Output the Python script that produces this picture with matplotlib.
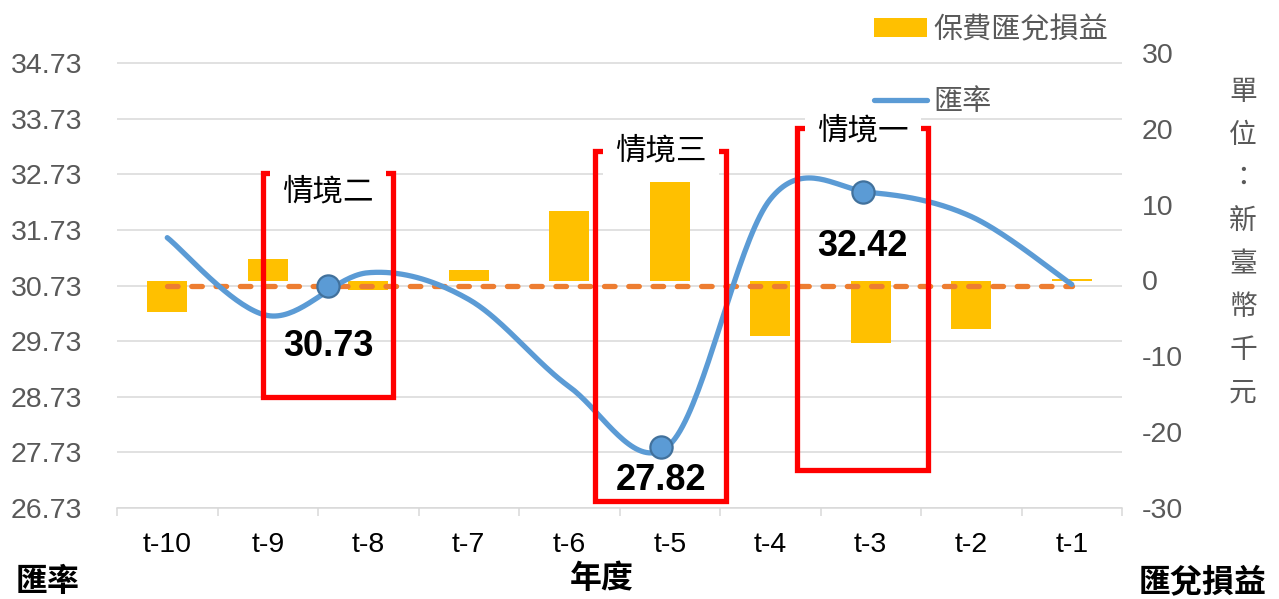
import numpy as np
import matplotlib
matplotlib.use("Agg")
import matplotlib.pyplot as plt
from matplotlib.patches import Rectangle, Patch
from matplotlib.lines import Line2D

plt.rcParams['font.family'] = ['Liberation Sans', 'Noto Sans CJK TC', 'DejaVu Sans']

# ---------------- data ----------------
categories = ["t-10", "t-9", "t-8", "t-7", "t-6", "t-5", "t-4", "t-3", "t-2", "t-1"]
fx_gain = [-4.2, 2.8, -1.2, 1.4, 9.1, 13.0, -7.3, -8.3, -6.4, 0.2]          # 保費匯兌損益 (右軸)
fx_rate = [31.59, 30.19, 30.96, 30.48, 28.91, 27.87, 32.28, 32.40, 31.97, 30.75]  # 匯率 (左軸)
base_rate = 30.73
left_ticks = [26.73, 27.73, 28.73, 29.73, 30.73, 31.73, 32.73, 33.73, 34.73]
right_ticks = [-30, -20, -10, 0, 10, 20, 30]

scenario_names = ["情境二", "情境三", "情境一"]
scenario_x = [1.60, 4.91, 6.92]          # highlighted point positions (category units)
scenario_rate = [30.73, 27.82, 32.42]
scenario_top = [32.76, 33.14, 33.57]
scenario_bottom = [28.73, 26.86, 27.42]
scenario_title_y = [32.40, 33.14, 33.50]
scenario_label_y = [29.64, 27.22, 31.43]
scenario_halfwidth = 0.65

legend_labels = ["保費匯兌損益", "匯率"]
right_unit = "單位：新臺幣千元"

BAR = '#FFC000'
LINE = '#5B9BD5'
ORANGE = '#ED7D31'
GRID = '#D9D9D9'
GRAY = '#595959'


def smooth(xs, ys, n=40):
    P = np.column_stack([np.asarray(xs, float), np.asarray(ys, float)])
    E = np.vstack([P[0], P, P[-1]])
    out = []
    t = np.linspace(0, 1, n)[:, None]
    h00 = 2 * t**3 - 3 * t**2 + 1
    h10 = t**3 - 2 * t**2 + t
    h01 = -2 * t**3 + 3 * t**2
    h11 = t**3 - t**2
    for i in range(len(P) - 1):
        p0, p1, p2, p3 = E[i], E[i + 1], E[i + 2], E[i + 3]
        m1 = (p2 - p0) / 2
        m2 = (p3 - p1) / 2
        seg = h00 * p1 + h10 * m1 + h01 * p2 + h11 * m2
        out.append(seg if i == 0 else seg[1:])
    return np.vstack(out)


W, H = 1279, 599
fig = plt.figure(figsize=(W / 100, H / 100), dpi=100)
L, R, B, T = 117, 1122, 508, 53
rect = [L / W, 1 - B / H, (R - L) / W, (B - T) / H]

x = np.arange(len(categories))
ylim_left = (26.73, 34.91)
ylim_right = (-30, 30)

# base axes: grid + left ticks
ax = fig.add_axes(rect)
ax.set_xlim(-0.5, len(categories) - 0.5)
ax.set_ylim(*ylim_left)
ax.set_yticks(left_ticks)
ax.set_yticklabels([f"{v:.2f}" for v in left_ticks])
ax.tick_params(axis='y', length=0, pad=25, labelsize=20.5, labelcolor=GRAY)
ax.grid(axis='y', color=GRID, lw=1.1)
ax.set_axisbelow(True)
for s in ['left', 'right', 'top']:
    ax.spines[s].set_visible(False)
ax.spines['bottom'].set_color(GRID)
ax.spines['bottom'].set_linewidth(1.1)
ax.set_xticks(x)
ax.set_xticklabels(categories)
ax.set_xticks(np.arange(-0.5, len(categories), 1.0), minor=True)
ax.tick_params(axis='x', which='major', length=0, pad=17, labelsize=20.5, labelcolor='black')
ax.tick_params(axis='x', which='minor', length=6, width=1.1, color=GRID)

# bars: right axis
ax2 = ax.twinx()
ax2.set_ylim(*ylim_right)
ax2.bar(x, fx_gain, width=0.4, color=BAR, zorder=2)
ax2.set_yticks(right_ticks)
ax2.set_yticklabels([str(v) for v in right_ticks])
ax2.tick_params(axis='y', length=0, pad=14, labelsize=20.5, labelcolor=GRAY)
for s in ax2.spines.values():
    s.set_visible(False)

# line axis: left scale
ax3 = ax.twinx()
ax3.set_ylim(*ylim_left)
ax3.set_yticks([])
for s in ax3.spines.values():
    s.set_visible(False)

ax3.plot([x[0], x[-1]], [base_rate, base_rate], color=ORANGE, lw=3.8,
         dashes=(2.0, 2.6), dash_capstyle='round', zorder=3)
curve = smooth(x, fx_rate)
ax3.plot(curve[:, 0], curve[:, 1], color=LINE, lw=3.8, solid_capstyle='round', zorder=4)
ax3.plot(scenario_x, scenario_rate, ls='none', marker='o', ms=16, mfc=LINE,
         mec='#41719C', mew=1.6, zorder=5)

for name, cx, top, bot, ty, ly, val in zip(scenario_names, scenario_x, scenario_top,
                                            scenario_bottom, scenario_title_y,
                                            scenario_label_y, scenario_rate):
    ax3.add_patch(Rectangle((cx - scenario_halfwidth, bot), 2 * scenario_halfwidth, top - bot,
                            fill=False, ec='#FF0000', lw=3.8, zorder=6, joinstyle='miter'))
    ax3.text(cx, ty, name, ha='center', va='center', fontsize=22, color='black',
             fontweight='medium', zorder=7,
             bbox=dict(boxstyle='square,pad=0.4', fc='white', ec='none'))
    ax3.text(cx, ly, f"{val:.2f}", ha='center', va='center', fontsize=26,
             fontweight='bold', color='black', zorder=7)

# legend
handles = [Patch(facecolor=BAR, edgecolor='none'),
           Line2D([], [], color=LINE, lw=3.8, solid_capstyle='round')]
fig.legend(handles, legend_labels, loc='upper left', bbox_to_anchor=(874 / W, 1 - 16 / H),
           frameon=False, borderpad=0, borderaxespad=0, handlelength=1.8,
           handleheight=0.65, handletextpad=0.25, labelspacing=1.5, fontsize=21,
           labelcolor=GRAY)

# right unit label (stacked vertical)
for i, ch in enumerate(right_unit):
    fig.text(1243 / W, 1 - (93 + 43 * i) / H, ch, ha='center', va='center',
             fontsize=20, color=GRAY)

# bottom labels
fig.text(16 / W, 1 - 583 / H, "匯率", ha='left', va='center', fontsize=23, fontweight='bold')
fig.text(602 / W, 1 - 580 / H, "年度", ha='center', va='center', fontsize=23, fontweight='bold')
fig.text(1267 / W, 1 - 583 / H, "匯兌損益", ha='right', va='center', fontsize=23, fontweight='bold')

fig.savefig("out.png", dpi=100)
